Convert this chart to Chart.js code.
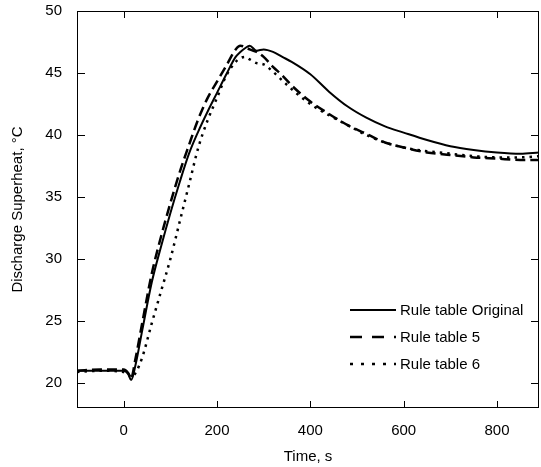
<!DOCTYPE html>
<html>
<head>
<meta charset="utf-8">
<script src="https://cdn.jsdelivr.net/npm/chart.js@4/dist/chart.umd.min.js"></script>
<style>
body{margin:0;background:#fff;}
canvas{display:block;}
</style>
</head>
<body>
<canvas id="superheatChart" width="541" height="467"></canvas>
<script>

/* DATA */

const times=[-100,-50,0,10,16,25,40,60,80,100,120,140,160,180,200,220,240,250,260,270,285,300,320,340,360,400,440,480,520,560,600,650,700,750,800,850,890];

const ruleOriginal=[21.0,21.0,21.0,20.7,20.25,21.4,24.3,28.1,31.0,33.7,36.2,38.5,40.3,41.9,43.4,44.9,46.3,46.7,47.0,47.2,46.8,46.9,46.7,46.3,45.9,44.9,43.5,42.3,41.4,40.7,40.2,39.6,39.1,38.8,38.6,38.5,38.6];
const ruleFive=[21.0,21.1,21.1,20.8,20.4,21.9,24.9,28.8,31.8,34.5,37.0,39.2,41.3,43.0,44.3,45.6,46.9,47.2,47.1,46.9,46.7,46.3,45.5,44.8,44.0,42.7,41.7,40.8,40.1,39.4,39.0,38.6,38.4,38.2,38.1,38.0,38.0];
const ruleSix=[20.9,21.0,20.9,20.7,20.5,20.8,22.1,24.8,27.4,30.0,33.0,36.0,39.0,41.2,43.0,44.8,45.9,46.2,46.3,46.1,45.8,45.7,45.1,44.4,43.7,42.5,41.6,40.8,40.0,39.4,39.0,38.7,38.5,38.3,38.2,38.2,38.3];

const seriesNames=["Rule table Original","Rule table 5","Rule table 6"];
const xTicks=[0,200,400,600,800];
const yTicks=[20,25,30,35,40,45,50];

/* STYLE */

const FONT="'Liberation Sans', Arial, sans-serif";
const INK="#000";
const dashes=[[],[10,5],[2.5,5]];
const legendDashes=[[],[12,10],[3,8]];
const widths=[2,2.5,2.5];

const toPoints=vals=>times.map((t,i)=>({x:t,y:vals[i]}));

/* FRAME + INWARD TICKS */

const framePlugin={
id:"frame",
afterDatasetsDraw(chart){
const {ctx,chartArea:a,scales:{x,y}}=chart;
ctx.save();
ctx.strokeStyle=INK;
ctx.lineWidth=1;
ctx.strokeRect(a.left+0.5,a.top+0.5,a.right-a.left-1,a.bottom-a.top-1);
ctx.beginPath();
xTicks.forEach(v=>{
const px=Math.round(x.getPixelForValue(v))+0.5;
ctx.moveTo(px,a.bottom);ctx.lineTo(px,a.bottom-7);
ctx.moveTo(px,a.top);ctx.lineTo(px,a.top+7);
});
yTicks.forEach(v=>{
const py=Math.round(y.getPixelForValue(v))+0.5;
ctx.moveTo(a.left,py);ctx.lineTo(a.left+8,py);
ctx.moveTo(a.right,py);ctx.lineTo(a.right-8,py);
});
ctx.stroke();
ctx.restore();
}
};

/* LEGEND INSIDE PLOT */

const legendPlugin={
id:"insideLegend",
afterDraw(chart){
const {ctx,chartArea:a}=chart;
const x0=a.right-189, x1=a.right-143, tx=a.right-139;
ctx.save();
ctx.font="15px "+FONT;
ctx.fillStyle=INK;
ctx.strokeStyle=INK;
ctx.textBaseline="middle";
seriesNames.forEach((name,i)=>{
const yy=a.bottom-98+i*27;
ctx.beginPath();
ctx.setLineDash(legendDashes[i]);
ctx.lineWidth=widths[i];
ctx.moveTo(x0,yy);ctx.lineTo(x1,yy);
ctx.stroke();
ctx.setLineDash([]);
ctx.fillText(name,tx,yy+1);
});
ctx.restore();
}
};

/* CHART */

new Chart(document.getElementById("superheatChart"),{
type:"line",
data:{
datasets:[ruleOriginal,ruleFive,ruleSix].map((vals,i)=>({
label:seriesNames[i],
data:toPoints(vals),
borderColor:INK,
borderWidth:widths[i],
borderDash:dashes[i],
pointRadius:0,
fill:false,
cubicInterpolationMode:"monotone"
}))
},
options:{
responsive:false,
devicePixelRatio:1,
animation:false,
layout:{padding:{top:11,right:2,left:0,bottom:0}},
plugins:{legend:{display:false},tooltip:{enabled:false}},
scales:{
x:{
type:"linear",
min:-100,
max:890,
afterBuildTicks:s=>{s.ticks=xTicks.map(v=>({value:v}));},
afterFit:s=>{s.height=59;s.paddingLeft=0;s.paddingRight=0;},
grid:{display:false,drawTicks:false},
border:{display:false},
ticks:{color:INK,font:{family:FONT,size:15},padding:14,maxRotation:0},
title:{display:true,text:"Time, s",color:INK,font:{family:FONT,size:15},padding:{top:0,bottom:1}}
},
y:{
min:18,
max:50,
afterBuildTicks:s=>{s.ticks=yTicks.map(v=>({value:v}));},
afterFit:s=>{s.width=77;s.paddingTop=0;s.paddingBottom=0;},
grid:{display:false,drawTicks:false},
border:{display:false},
ticks:{color:INK,font:{family:FONT,size:15},padding:15},
title:{display:true,text:"Discharge Superheat, °C",color:INK,font:{family:FONT,size:15},padding:{top:9,bottom:0}}
}
}
},
plugins:[framePlugin,legendPlugin]
});

</script>
</body>
</html>
